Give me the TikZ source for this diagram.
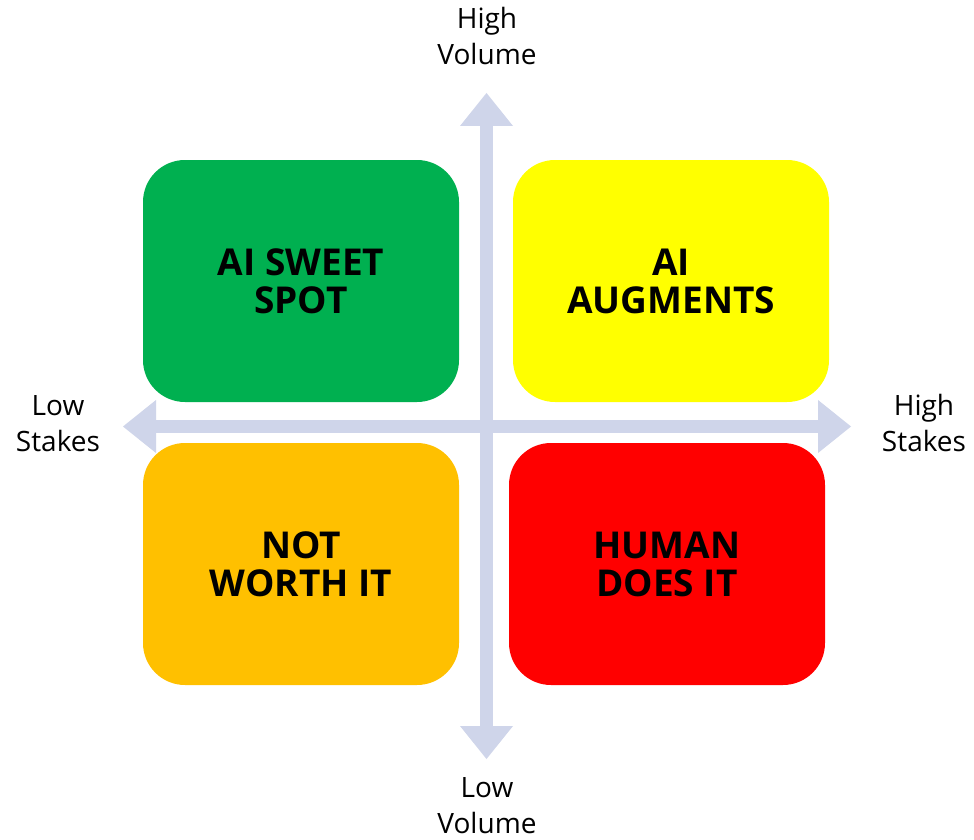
\documentclass[tikz,border=0pt]{standalone}
\usepackage{fontspec}
\setmainfont{Open Sans}
\usetikzlibrary{arrows.meta}
\definecolor{cgreen}{HTML}{00B050}
\definecolor{cyellow}{HTML}{FFFF00}
\definecolor{corange}{HTML}{FFC000}
\definecolor{cred}{HTML}{FF0000}
\definecolor{caxis}{HTML}{CFD5EA}
\tikzset{
  quad/.style={rectangle, rounded corners=42pt, minimum width=316pt, minimum height=242pt,
    inner sep=0pt, align=center, text=black,
    font=\fontsize{37pt}{38pt}\selectfont\bfseries},
  axislabel/.style={align=center, inner sep=0pt, text=black,
    font=\fontsize{28pt}{36pt}\selectfont},
  axisline/.style={draw=caxis, line width=13pt,
    {Triangle[length=33pt,width=53pt,line width=0pt]}-{Triangle[length=33pt,width=53pt,line width=0pt]}}
}
\begin{document}
\begin{tikzpicture}[x=1pt,y=-1pt]
\useasboundingbox[fill=white] (0,0) rectangle (974,840);
% axes
\coordinate (vtop) at (486.5,93);
\coordinate (vbot) at (486.5,759);
\coordinate (hleft) at (123,426.5);
\coordinate (hright) at (851,426.5);
\draw[axisline] (vtop) -- (vbot);
\draw[axisline] (hleft) -- (hright);
% quadrants
\node[quad, fill=cgreen] (sweet) at (301,281) {AI SWEET\\SPOT};
\node[quad, fill=cyellow] (augments) at (671,281) {AI\\AUGMENTS};
\node[quad, fill=corange] (notworth) at (301,564) {NOT\\WORTH IT};
\node[quad, fill=cred] (human) at (667,564) {HUMAN\\DOES IT};
% axis labels (base anchor = last line baseline)
\node[axislabel, anchor=base] (hv) at (487,65) {High\\Volume};
\node[axislabel, anchor=base] (lv) at (487,833) {Low\\Volume};
\node[axislabel, anchor=base] (ls) at (58,451) {Low\\Stakes};
\node[axislabel, anchor=base] (hs) at (924,451) {High\\Stakes};
\end{tikzpicture}
\end{document}
